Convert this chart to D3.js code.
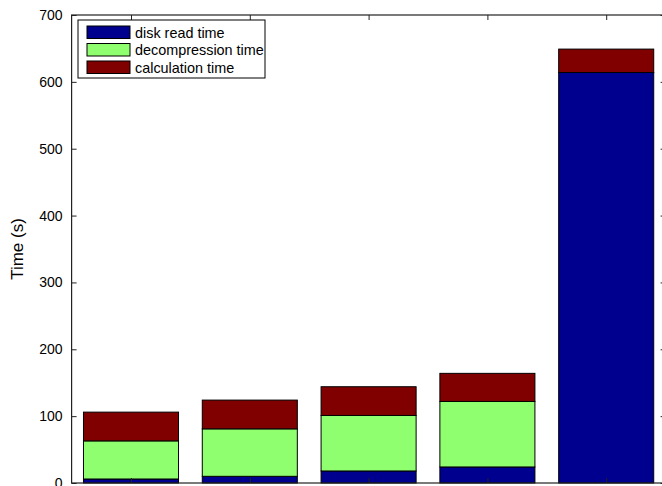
<!DOCTYPE html>
<html>
<head>
<meta charset="utf-8">
<script src="https://cdn.jsdelivr.net/npm/d3@7"></script>
<style>
  html, body { margin: 0; padding: 0; background: #fff; }
  svg { display: block; font-family: "Liberation Sans", Arial, sans-serif; }
</style>
</head>
<body>
<svg id="chart" width="662" height="486"></svg>
<script>
// Stacked time components for each run
const runs = [1, 2, 3, 4, 5];
const diskRead = [6, 10, 18, 24, 614];
const decompression = [57, 71, 83, 98, 0];
const calculation = [43, 43, 43, 42, 35];
const seriesNames = ["disk read time", "decompression time", "calculation time"];
const seriesColors = ["#00008f", "#8fff70", "#800000"];
const yTicks = [0, 100, 200, 300, 400, 500, 600, 700];

const svg = d3.select("#chart");
const x = d3.scaleLinear().domain([0.5, 5.5]).range([71.6, 665.6]);
const y = d3.scaleLinear().domain([0, 700]).range([483, 15]);
const barW = (x(2) - x(1)) * 0.8;

const rows = runs.map((r, i) => ({
  run: r,
  "disk read time": diskRead[i],
  "decompression time": decompression[i],
  "calculation time": calculation[i]
}));
const stacked = d3.stack().keys(seriesNames)(rows);

// bars
svg.append("g").selectAll("g")
  .data(stacked).join("g")
  .attr("fill", (d, i) => seriesColors[i])
  .selectAll("rect")
  .data(d => d.filter(s => s[1] - s[0] > 0))
  .join("rect")
  .attr("x", d => x(d.data.run) - barW / 2)
  .attr("width", barW)
  .attr("y", d => y(d[1]))
  .attr("height", d => y(d[0]) - y(d[1]))
  .attr("stroke", "#000")
  .attr("stroke-width", 1);

// frame
svg.append("rect")
  .attr("fill", "none").attr("stroke", "#222")
  .attr("x", x(0.5)).attr("y", y(700))
  .attr("width", x(5.5) - x(0.5)).attr("height", y(0) - y(700))
  .attr("stroke-width", 1.2);

// left axis with inward ticks
const leftAxis = svg.append("g").attr("transform", `translate(${x(0.5)},0)`)
  .call(d3.axisLeft(y).tickValues(yTicks).tickSize(-5).tickPadding(9).tickFormat(d3.format("d")));
leftAxis.select(".domain").remove();
leftAxis.selectAll("line").attr("stroke", "#222");
leftAxis.selectAll("text").attr("font-size", 14).attr("fill", "#000")
  .attr("font-family", "Liberation Sans, Arial, sans-serif");

// right axis ticks
const rightAxis = svg.append("g").attr("transform", `translate(${x(5.5)},0)`)
  .call(d3.axisRight(y).tickValues(yTicks).tickSize(-5).tickFormat(""));
rightAxis.select(".domain").remove();
rightAxis.selectAll("line").attr("stroke", "#222");

// top and bottom ticks at bar centres
const topAxis = svg.append("g").attr("transform", `translate(0,${y(700)})`)
  .call(d3.axisTop(x).tickValues(runs).tickSize(-5).tickFormat(""));
topAxis.select(".domain").remove();
topAxis.selectAll("line").attr("stroke", "#222");
const bottomAxis = svg.append("g").attr("transform", `translate(0,${y(0)})`)
  .call(d3.axisBottom(x).tickValues(runs).tickSize(-5).tickFormat(""));
bottomAxis.select(".domain").remove();
bottomAxis.selectAll("line").attr("stroke", "#222");

// y label
svg.append("text")
  .attr("transform", `translate(23,${(y(0) + y(700)) / 2}) rotate(-90)`)
  .attr("text-anchor", "middle")
  .attr("font-size", 17)
  .text("Time (s)");

// legend
const lg = svg.append("g").attr("transform", "translate(78,20)");
lg.append("rect").attr("width", 187).attr("height", 58)
  .attr("fill", "#fff").attr("stroke", "#000").attr("stroke-width", 1);
seriesNames.forEach((name, i) => {
  const row = lg.append("g").attr("transform", `translate(0,${6 + i * 17.5})`);
  row.append("rect").attr("x", 9).attr("y", 0).attr("width", 43).attr("height", 12.5)
    .attr("fill", seriesColors[i]).attr("stroke", "#000").attr("stroke-width", 1);
  row.append("text").attr("x", 57).attr("y", 11.5).attr("font-size", 14.4).text(name);
});
</script>
</body>
</html>
